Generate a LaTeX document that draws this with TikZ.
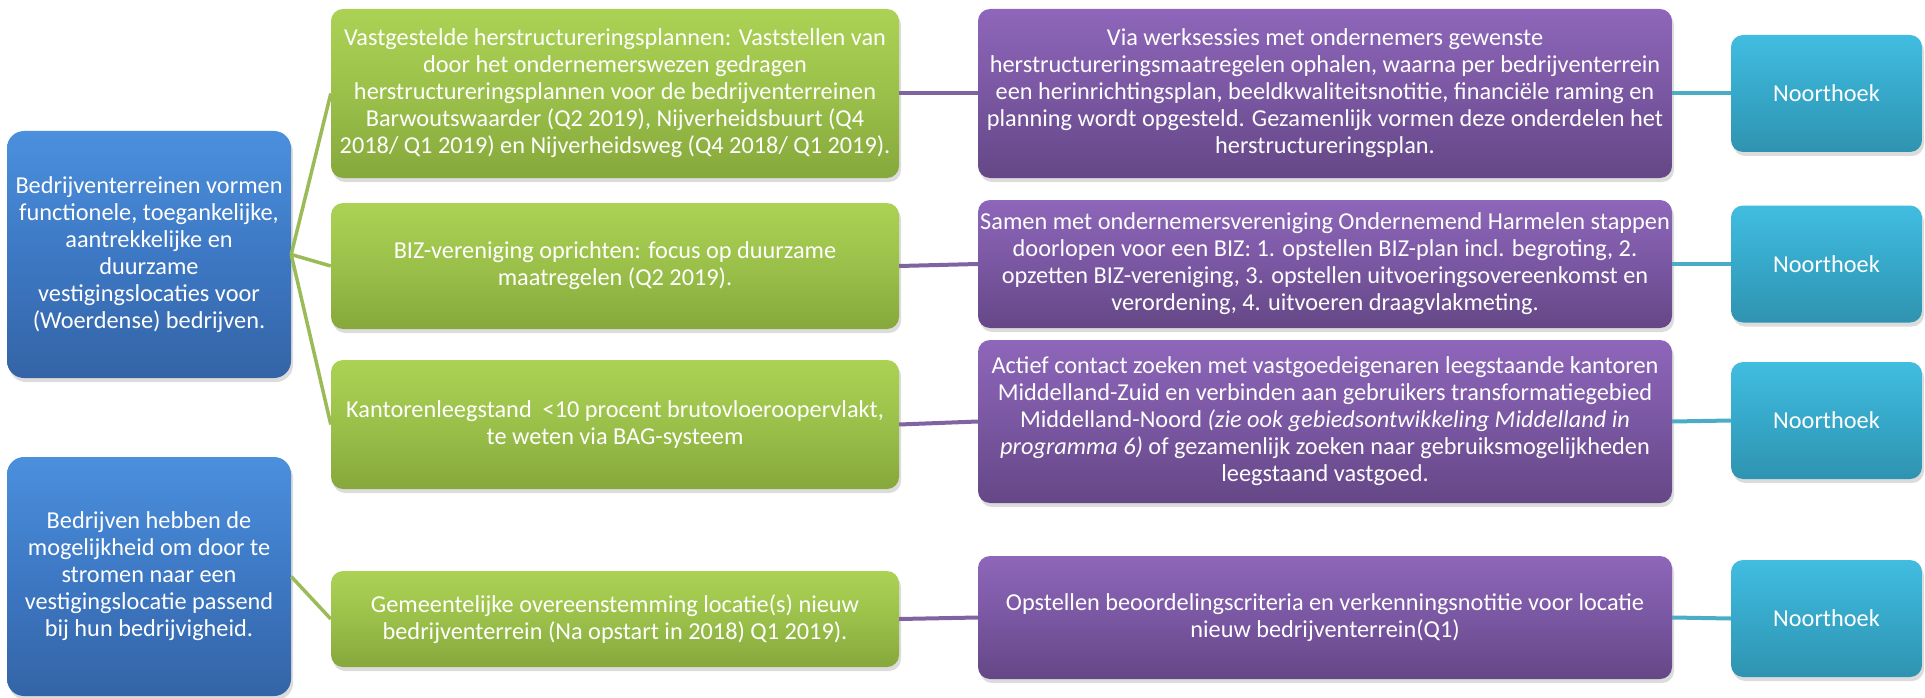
\documentclass[tikz,border=0pt]{standalone}
\usepackage{fontspec}
\setmainfont{Carlito}
\usetikzlibrary{shadows}
\definecolor{bluetop}{HTML}{4B90DD}
\definecolor{bluemid}{HTML}{3D78C4}
\definecolor{bluebot}{HTML}{3464A6}
\definecolor{greentop}{HTML}{ABD254}
\definecolor{greenmid}{HTML}{9BC04A}
\definecolor{greenbot}{HTML}{86A83C}
\definecolor{purptop}{HTML}{8E66BA}
\definecolor{purpmid}{HTML}{7A57A2}
\definecolor{purpbot}{HTML}{654786}
\definecolor{cyantop}{HTML}{41BDE0}
\definecolor{cyanmid}{HTML}{36A8C9}
\definecolor{cyanbot}{HTML}{2F93B0}
\definecolor{gline}{HTML}{9BBB59}
\definecolor{pline}{HTML}{8064A2}
\definecolor{cline}{HTML}{4BACC6}
\tikzset{
  box/.style={draw=none, rounded corners=12pt, align=center, inner sep=0pt,
    text=white, font=\fontsize{24.3}{27}\selectfont,
    drop shadow={opacity=0.28, shadow xshift=2pt, shadow yshift=-4pt}},
  bluebox/.style={box, top color=bluetop, bottom color=bluebot, middle color=bluemid,
    minimum width=284pt, rounded corners=17pt},
  greenbox/.style={box, top color=greentop, bottom color=greenbot, middle color=greenmid,
    minimum width=568pt},
  purpbox/.style={box, top color=purptop, bottom color=purpbot, middle color=purpmid,
    minimum width=694pt},
  cyanbox/.style={box, top color=cyantop, bottom color=cyanbot, middle color=cyanmid,
    minimum width=191pt, minimum height=117pt},
  glink/.style={draw=gline, line width=3.5pt},
  plink/.style={draw=pline, line width=4pt},
  clink/.style={draw=cline, line width=4pt}
}
\begin{document}
\begin{tikzpicture}[x=1pt, y=-1pt]
\useasboundingbox (0,0) rectangle (1925,698);

% column 1
\node[bluebox, minimum height=247pt] (b1) at (149,254.5)
  {Bedrijventerreinen vormen\\functionele, toegankelijke,\\aantrekkelijke en\\duurzame\\vestigingslocaties voor\\(Woerdense) bedrijven.};
\node[bluebox, minimum height=239pt] (b2) at (149,576.5)
  {Bedrijven hebben de\\mogelijkheid om door te\\stromen naar een\\vestigingslocatie passend\\bij hun bedrijvigheid.};

% column 2
\node[greenbox, minimum height=169pt] (g1) at (615,93.5)
  {Vastgestelde herstructureringsplannen: Vaststellen van\\door het ondernemerswezen gedragen\\herstructureringsplannen voor de bedrijventerreinen\\Barwoutswaarder (Q2 2019), Nijverheidsbuurt (Q4\\2018/ Q1 2019) en Nijverheidsweg (Q4 2018/ Q1 2019).};
\node[greenbox, minimum height=126pt] (g2) at (615,266)
  {BIZ-vereniging oprichten: focus op duurzame\\maatregelen (Q2 2019).};
\node[greenbox, minimum height=129pt] (g3) at (615,424.5)
  {Kantorenleegstand\ \ {<}10 procent brutovloeroopervlakt,\\te weten via BAG-systeem};
\node[greenbox, minimum height=96pt] (g4) at (615,619)
  {Gemeentelijke overeenstemming locatie(s) nieuw\\bedrijventerrein (Na opstart in 2018) Q1 2019).};

% column 3
\node[purpbox, minimum height=169pt] (p1) at (1325,93.5)
  {Via werksessies met ondernemers gewenste\\herstructureringsmaatregelen ophalen, waarna per bedrijventerrein\\een herinrichtingsplan, beeldkwaliteitsnotitie, financiële raming en\\planning wordt opgesteld. Gezamenlijk vormen deze onderdelen het\\herstructureringsplan.};
\node[purpbox, minimum height=128pt] (p2) at (1325,264)
  {Samen met ondernemersvereniging Ondernemend Harmelen stappen\\doorlopen voor een BIZ: 1. opstellen BIZ-plan incl. begroting, 2.\\opzetten BIZ-vereniging, 3. opstellen uitvoeringsovereenkomst en\\verordening, 4. uitvoeren draagvlakmeting.};
\node[purpbox, minimum height=163pt] (p3) at (1325,421.5)
  {Actief contact zoeken met vastgoedeigenaren leegstaande kantoren\\Middelland-Zuid en verbinden aan gebruikers transformatiegebied\\Middelland-Noord \textit{(zie ook gebiedsontwikkeling Middelland in}\\\textit{programma 6)} of gezamenlijk zoeken naar gebruiksmogelijkheden\\leegstaand vastgoed.};
\node[purpbox, minimum height=123pt] (p4) at (1325,617.5)
  {Opstellen beoordelingscriteria en verkenningsnotitie voor locatie\\nieuw bedrijventerrein(Q1)};

% column 4
\node[cyanbox] (c1) at (1826.5,93.5) {Noorthoek};
\node[cyanbox] (c2) at (1826.5,264) {Noorthoek};
\node[cyanbox] (c3) at (1826.5,420.5) {Noorthoek};
\node[cyanbox] (c4) at (1826.5,618.5) {Noorthoek};

% connectors
\draw[glink] (b1.east) -- (g1.west);
\draw[glink] (b1.east) -- (g2.west);
\draw[glink] (b1.east) -- (g3.west);
\draw[glink] (b2.east) -- (g4.west);
\draw[plink] (g1.east) -- (p1.west);
\draw[plink] (g2.east) -- (p2.west);
\draw[plink] (g3.east) -- (p3.west);
\draw[plink] (g4.east) -- (p4.west);
\draw[clink] (p1.east) -- (c1.west);
\draw[clink] (p2.east) -- (c2.west);
\draw[clink] (p3.east) -- (c3.west);
\draw[clink] (p4.east) -- (c4.west);
\end{tikzpicture}
\end{document}
